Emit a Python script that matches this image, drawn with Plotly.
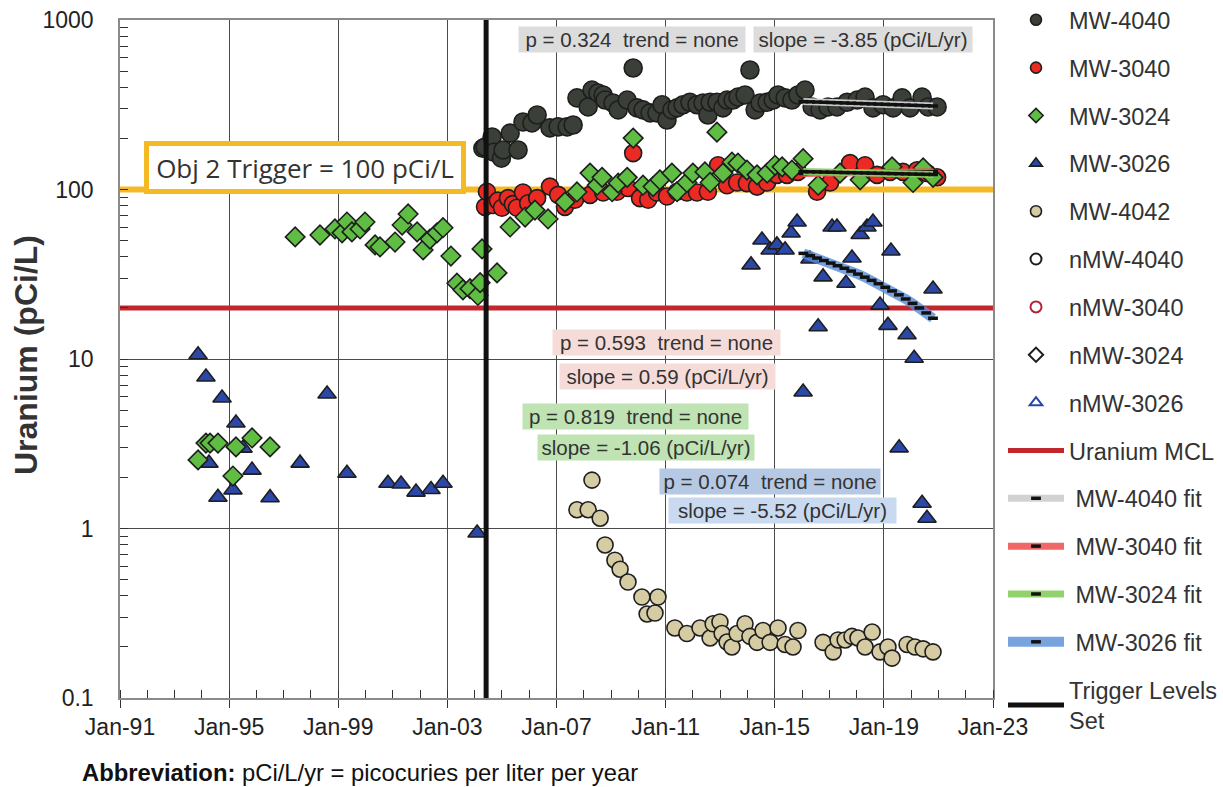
import plotly.graph_objects as go
import pandas as pd

# ---------------- data (decimal years, pCi/L) ----------------
mw4040_year = [2004.30, 2004.38, 2004.64, 2004.70, 2004.98, 2005.04, 2005.30, 2005.59, 2005.77, 2006.10,
               2006.29, 2006.76, 2007.06, 2007.39, 2007.61, 2007.75, 2008.16, 2008.30, 2008.52, 2008.71,
               2008.78, 2009.07, 2009.26, 2009.59, 2009.81, 2009.95, 2010.17, 2010.43, 2010.68, 2010.87,
               2011.05, 2011.23, 2011.42, 2011.64, 2011.89, 2012.15, 2012.37, 2012.55, 2012.63, 2012.88,
               2013.10, 2013.25, 2013.47, 2013.65, 2013.91, 2014.09, 2014.28, 2014.46, 2014.72, 2014.94,
               2015.12, 2015.38, 2015.63, 2015.85, 2016.11, 2016.37, 2016.66, 2016.95, 2017.28, 2017.65,
               2018.02, 2018.31, 2018.60, 2018.97, 2019.34, 2019.67, 2019.96, 2020.40, 2020.62, 2020.95]
mw4040_val = [175, 178, 204, 166, 153, 171, 215, 171, 250, 247,
              275, 231, 234, 234, 240, 347, 307, 386, 371, 361,
              337, 324, 295, 337, 521, 303, 295, 283, 283, 316,
              257, 295, 303, 316, 327, 316, 324, 275, 327, 327,
              303, 337, 337, 351, 361, 507, 295, 324, 327, 337,
              361, 347, 337, 361, 386, 307, 295, 307, 307, 327,
              337, 351, 303, 316, 303, 347, 303, 351, 307, 307]

mw3040_year = [2004.38, 2004.45, 2004.67, 2004.85, 2005.00, 2005.22, 2005.40, 2005.55, 2005.77, 2005.96,
               2006.29, 2006.76, 2007.06, 2007.31, 2007.68, 2008.23, 2008.71, 2009.22, 2009.62, 2009.81,
               2010.06, 2010.36, 2010.68, 2011.05, 2011.42, 2011.78, 2012.15, 2012.55, 2012.92, 2013.25,
               2013.62, 2013.98, 2014.35, 2014.72, 2015.08, 2015.45, 2015.85, 2016.55, 2017.03, 2017.76,
               2018.31, 2018.75, 2019.23, 2019.70, 2020.22, 2020.58, 2020.95]
mw3040_val = [79, 97, 81, 86, 78, 89, 82, 78, 96, 83,
              89, 104, 93, 79, 87, 93, 96, 97, 102, 164,
              89, 87, 96, 91, 97, 96, 96, 97, 139, 106,
              110, 109, 104, 110, 122, 122, 127, 97, 110, 143,
              139, 122, 127, 127, 130, 125, 118]

mw3024_year = [1993.86, 1994.15, 1994.30, 1994.59, 1995.14, 1995.25, 1995.84, 1996.50,
               1997.42, 1998.33, 1998.88, 1999.14, 1999.32, 1999.50, 1999.80, 1999.98,
               2000.35, 2000.53, 2001.08, 2001.34, 2001.56, 2001.89, 2002.11, 2002.36, 2002.62, 2002.84,
               2003.13, 2003.35, 2003.57, 2003.83, 2004.12, 2004.20, 2004.27, 2004.82,
               2005.30, 2005.85, 2006.21, 2006.69, 2007.31, 2007.75, 2008.23, 2008.49, 2008.67,
               2009.04, 2009.26, 2009.59, 2009.81, 2010.17, 2010.54, 2010.79, 2011.23, 2011.42, 2011.78,
               2012.00, 2012.44, 2012.63, 2012.88, 2013.10, 2013.43, 2013.65, 2013.98, 2014.35, 2014.72,
               2015.01, 2015.27, 2015.63, 2016.04, 2016.59, 2017.39, 2018.13, 2019.30, 2020.07, 2020.44, 2020.80]
mw3024_val = [2.54, 3.19, 3.19, 3.19, 2.04, 3.03, 3.42, 3.03,
              52.5, 53.9, 58.5, 55.5, 64.3, 56.2, 58.5, 64.3,
              47.1, 45.8, 49, 61.7, 71.7, 56.2, 44, 51, 55.5, 59.5,
              40.5, 28, 25.6, 26, 23.7, 28.2, 44.6, 32.2,
              60.1, 68.8, 75.6, 67, 84.3, 96.7, 125, 106, 118,
              97, 109, 118, 201, 106, 104, 114, 125, 97, 110,
              125, 127, 110, 218, 125, 145, 143, 130, 122, 125,
              139, 136, 130, 152, 106, 125, 114, 136, 110, 134, 118]

mw3026_year = [1993.86, 1994.15, 1994.26, 1994.59, 1994.74, 1995.14, 1995.25, 1995.51, 1995.84, 1996.50,
               1997.60, 1998.59, 1999.32, 2000.82, 2001.30, 2001.85, 2002.40, 2002.84, 2004.09,
               2014.13, 2014.53, 2014.83, 2015.08, 2015.38, 2015.60, 2015.82, 2016.04, 2016.29, 2016.59,
               2016.77, 2017.10, 2017.28, 2017.61, 2017.83, 2018.13, 2018.38, 2018.60, 2018.86, 2019.15,
               2019.26, 2019.56, 2019.85, 2020.11, 2020.40, 2020.58, 2020.80]
mw3026_val = [10.6, 7.83, 2.43, 1.53, 5.89, 1.69, 4.19, 2.98, 2.21, 1.52,
              2.43, 6.22, 2.12, 1.85, 1.83, 1.64, 1.70, 1.85, 0.94,
              35.9, 50.4, 44, 47.1, 44, 55.4, 64.3, 6.39, 38.9, 15.5,
              30.5, 60.1, 60.1, 28, 39.4, 54.3, 60.1, 64.3, 20.8, 15.8,
              43.4, 2.99, 13.9, 10.1, 1.41, 1.15, 25.9]

mw4042_year = [2007.75, 2008.16, 2008.30, 2008.60, 2008.78, 2009.14, 2009.33, 2009.62, 2010.13, 2010.32,
               2010.61, 2010.72, 2011.34, 2011.78, 2012.26, 2012.63, 2012.74, 2012.99, 2013.07, 2013.25,
               2013.43, 2013.62, 2013.91, 2014.09, 2014.35, 2014.57, 2014.83, 2015.12, 2015.38, 2015.67,
               2015.85, 2016.77, 2017.14, 2017.32, 2017.58, 2017.83, 2018.05, 2018.31, 2018.57, 2018.86,
               2019.15, 2019.30, 2019.85, 2020.14, 2020.44, 2020.80]
mw4042_val = [1.29, 1.29, 1.93, 1.15, 0.80, 0.65, 0.575, 0.483, 0.394, 0.313,
              0.317, 0.394, 0.259, 0.24, 0.259, 0.226, 0.274, 0.281, 0.24, 0.214,
              0.20, 0.24, 0.274, 0.231, 0.213, 0.25, 0.213, 0.259, 0.207, 0.20,
              0.25, 0.213, 0.187, 0.22, 0.22, 0.231, 0.226, 0.20, 0.245, 0.187,
              0.20, 0.172, 0.207, 0.20, 0.195, 0.187]

fit_year = [2016.05, 2016.30, 2016.55, 2016.80, 2017.05, 2017.30, 2017.55, 2017.80, 2018.05, 2018.30,
            2018.55, 2018.80, 2019.05, 2019.30, 2019.55, 2019.80, 2020.05, 2020.30, 2020.55, 2020.80]
fit4040_val = [330, 329, 328, 327, 326, 325, 324, 323, 322, 321,
               320, 319, 318, 317, 316, 315, 314, 313, 312, 311]
fit3040_val = [124.4, 124.6, 124.7, 124.9, 125.0, 125.2, 125.3, 125.5, 125.6, 125.7,
               125.9, 126.0, 126.2, 126.3, 126.5, 126.6, 126.8, 126.9, 127.1, 127.2]
fit3024_val = [127.5, 127.2, 127.0, 126.7, 126.5, 126.2, 125.9, 125.7, 125.4, 125.2,
               124.9, 124.6, 124.4, 124.1, 123.9, 123.6, 123.3, 123.1, 122.8, 122.6]
fit3026_val = [42.0, 40.7, 39.4, 38.1, 36.8, 35.5, 34.3, 33.0, 31.7, 30.4,
               29.1, 27.8, 26.5, 25.2, 23.9, 22.6, 21.3, 20.0, 18.7, 17.4]

mcl_value = 20
trigger_value = 100
trigger_set_year = 2004.42
axis_years = [1991.0, 2023.0]

stats_text = [
    ("p = 0.324\u00a0\u00a0trend = none", "#dcdcdc"),
    ("slope = -3.85 (pCi/L/yr)", "#dcdcdc"),
    ("p = 0.593\u00a0\u00a0trend = none", "#f6dcd9"),
    ("slope = 0.59 (pCi/L/yr)", "#f6dcd9"),
    ("p = 0.819\u00a0\u00a0trend = none", "#bfe3b3"),
    ("slope = -1.06 (pCi/L/yr)", "#bfe3b3"),
    ("p = 0.074\u00a0\u00a0trend = none", "#b6c9e4"),
    ("slope = -5.52 (pCi/L/yr)", "#c9d9ef"),
]


def to_dates(years):
    out = []
    for y in years:
        yr = int(y)
        frac = y - yr
        start = pd.Timestamp(year=yr, month=1, day=1)
        end = pd.Timestamp(year=yr + 1, month=1, day=1)
        out.append(start + (end - start) * frac)
    return out


# ---------------- geometry helpers (paper coords) ----------------
W, H = 1223, 787
L, R, T, B = 120, 993, 20, 698


def px(x):
    return (x - L) / (R - L)


def py(y):
    return (B - y) / (B - T)


fig = go.Figure()
OUT = "#1e1e1e"
FONT = "Liberation Sans, Arial, sans-serif"

# reference lines
fig.add_trace(go.Scatter(x=to_dates(axis_years), y=[trigger_value] * 2, mode="lines",
                         line=dict(color="#f6b926", width=6), showlegend=False, hoverinfo="skip"))
fig.add_trace(go.Scatter(x=to_dates(axis_years), y=[mcl_value] * 2, mode="lines",
                         line=dict(color="#c1272d", width=5), name="Uranium MCL",
                         legendgroup="g10", legendrank=10))

# data series (legend shown through small proxy entries below)
series = [
    ("MW-4042", mw4042_year, mw4042_val, "circle", 16, "#d6cca4", 5),
    ("MW-3026", mw3026_year, mw3026_val, "triangle-up", 16, "#2b48a8", 4),
    ("MW-4040", mw4040_year, mw4040_val, "circle", 18, "#3a4038", 1),
    ("MW-3040", mw3040_year, mw3040_val, "circle", 17, "#ec2a24", 2),
    ("MW-3024", mw3024_year, mw3024_val, "diamond", 15, "#5fbd44", 3),
]
for nm, xs, ys, sym, sz, col, rk in series:
    fig.add_trace(go.Scatter(x=to_dates(xs), y=ys, mode="markers", name=nm,
                             marker=dict(symbol=sym, size=sz, color=col, line=dict(color=OUT, width=1.6)),
                             legendgroup="g%d" % rk, showlegend=False))
for nm, xs, ys, sym, sz, col, rk in series:
    fig.add_trace(go.Scatter(x=[None], y=[None], mode="markers", name=nm,
                             marker=dict(symbol=sym, size=11, color=col, line=dict(color=OUT, width=1.6)),
                             legendgroup="g%d" % rk, legendrank=rk))

# legend-only (no data) series
for nm, sym, col, rk in [("nMW-4040", "circle-open", "#1e1e1e", 6),
                         ("nMW-3040", "circle-open", "#b3203d", 7),
                         ("nMW-3024", "diamond-open", "#1e1e1e", 8),
                         ("nMW-3026", "triangle-up-open", "#2b48a8", 9)]:
    fig.add_trace(go.Scatter(x=[None], y=[None], mode="markers", name=nm,
                             marker=dict(symbol=sym, size=11, color=col, line=dict(color=col, width=2)),
                             legendgroup="g%d" % rk, legendrank=rk))

# fits
for nm, vals, col, wd, rk in [("MW-4040 fit", fit4040_val, "rgba(208,208,208,0.95)", 7, 11),
                              ("MW-3040 fit", fit3040_val, "rgba(240,85,85,0.9)", 7, 12),
                              ("MW-3024 fit", fit3024_val, "rgba(140,208,100,0.95)", 7, 13),
                              ("MW-3026 fit", fit3026_val, "rgba(88,140,215,0.8)", 10, 14)]:
    fig.add_trace(go.Scatter(x=to_dates(fit_year), y=vals, mode="lines+markers", name=" " + nm,
                             line=dict(color=col, width=wd),
                             marker=dict(symbol="line-ew", size=7, color="#111",
                                         line=dict(color="#111", width=3.5)),
                             legendgroup="g%d" % rk, legendrank=rk))

fig.add_trace(go.Scatter(x=to_dates([trigger_set_year] * 2), y=[0.1, 1000], mode="lines",
                         line=dict(color="#111111", width=5), name="Trigger Levels<br>Set",
                         legendgroup="g15", legendrank=15))

annotations = []
centers = [(632, 40, 226), (863, 40, 218), (666, 342, 227), (667, 376, 215),
           (635, 416, 225), (646, 447, 216), (770, 481, 220), (782, 510, 227)]
for (txt, bg), (cx, cy, w) in zip(stats_text, centers):
    annotations.append(dict(x=px(cx), y=py(cy), xref="paper", yref="paper", text=txt,
                            showarrow=False, bgcolor=bg, width=w, height=25, borderpad=0,
                            font=dict(family=FONT, size=20.5, color="#333333"),
                            xanchor="center", yanchor="middle"))

annotations.append(dict(x=px(305), y=py(167), xref="paper", yref="paper",
                        text="Obj 2 Trigger = 100 pCi/L", showarrow=False,
                        bgcolor="white", bordercolor="#f6b926", borderwidth=5,
                        width=312, height=43, borderpad=0,
                        font=dict(family="Open Sans, Lato, sans-serif", size=26, color="#333333"),
                        xanchor="center", yanchor="middle"))

annotations.append(dict(x=px(26), y=py(355), xref="paper", yref="paper",
                        text="<b>Uranium (pCi/L)</b>", textangle=-90, showarrow=False,
                        font=dict(family=FONT, size=32, color="#333333"),
                        xanchor="center", yanchor="middle"))

annotations.append(dict(x=px(80), y=py(772), xref="paper", yref="paper",
                        text="<b>Abbreviation:</b> pCi/L/yr = picocuries per liter per year",
                        showarrow=False, font=dict(family=FONT, size=23.8, color="#111111"),
                        xanchor="left", yanchor="middle"))

fig.update_layout(
    width=W, height=H,
    margin=dict(l=L, r=W - R, t=T, b=H - B, autoexpand=False),
    paper_bgcolor="white", plot_bgcolor="white",
    showlegend=True,
    legend=dict(x=px(1003), y=py(-2), xanchor="left", yanchor="top",
                font=dict(family=FONT, size=23.5, color="#333333"),
                tracegroupgap=14.3, itemsizing="trace", itemwidth=56,
                bgcolor="rgba(0,0,0,0)", maxheight=787),
    annotations=annotations,
)

fig.update_xaxes(
    type="date", range=to_dates(axis_years),
    tick0="1991-01-01", dtick="M48", tickformat="%b-%y",
    showgrid=True, gridcolor="#4a4a4a", gridwidth=1,
    ticks="outside", ticklen=8, tickcolor="#333", ticklabelstandoff=0,
    minor=dict(dtick="M12", ticks="inside", ticklen=8, tickcolor="#333", showgrid=False),
    showline=True, linecolor="#8a8a8a", linewidth=1.5, mirror=True,
    tickfont=dict(family=FONT, size=23, color="#222222"),
    zeroline=False,
)
fig.update_yaxes(
    type="log", range=[-1, 3], dtick=1,
    tickvals=[0.1, 1, 10, 100, 1000], ticktext=["0.1", "1", "10", "100", "1000"],
    showgrid=True, gridcolor="#4a4a4a", gridwidth=1,
    ticks="inside", ticklen=8, tickcolor="#333", ticklabelstandoff=20,
    minor=dict(ticks="inside", ticklen=8, tickcolor="#333", showgrid=False,
               tickvals=[v * m for m in [0.1, 1, 10, 100] for v in [2, 3, 4, 5, 6, 7, 8, 9]]),
    showline=True, linecolor="#8a8a8a", linewidth=1.5, mirror=True,
    tickfont=dict(family=FONT, size=23, color="#222222"),
    zeroline=False,
)

fig.write_html("out.html")
